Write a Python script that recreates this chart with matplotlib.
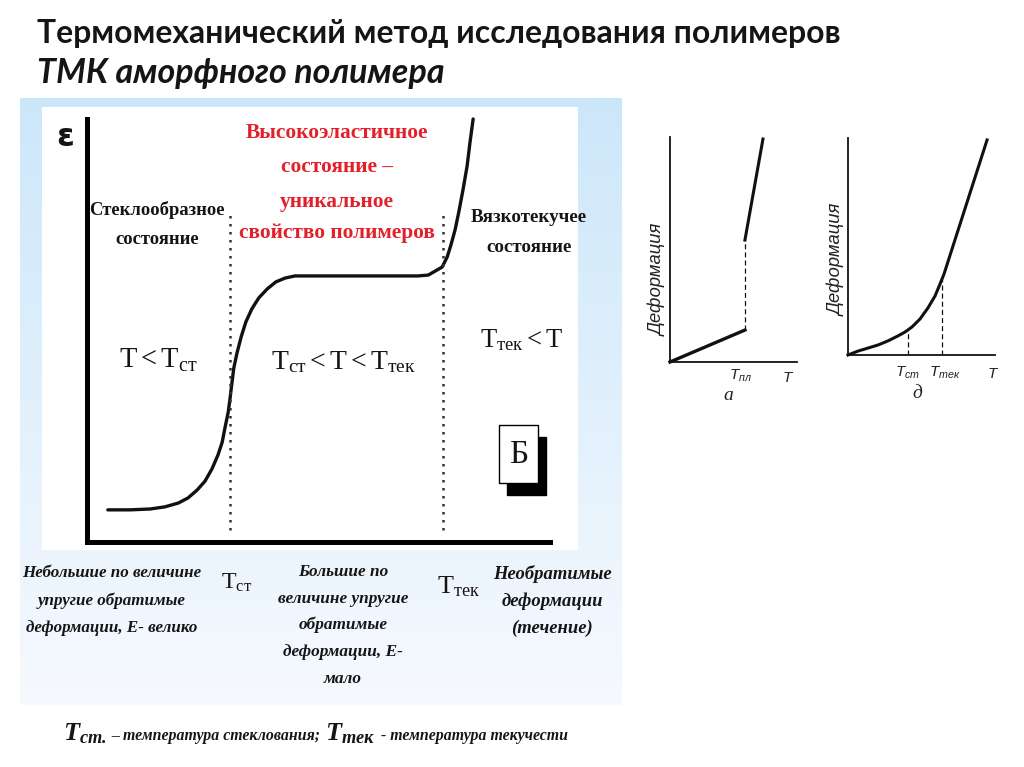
import matplotlib
matplotlib.use('Agg')
import matplotlib.pyplot as plt
import numpy as np
from matplotlib.patches import Rectangle

W, H = 1024, 767

# main TMA curve of an amorphous polymer, T and strain in arbitrary units (0..100)
main_T = [4.5, 9.3, 13.6, 16.8, 19.7, 21.8, 23.8, 25.5, 27.0, 28.3, 29.2, 29.8, 30.5,
          30.9, 31.3, 31.7, 32.4, 33.3, 34.3, 35.6, 37.1, 38.9, 40.8, 42.8, 44.9,
          71.5, 73.7, 74.5, 76.7, 77.8, 78.6, 79.5, 80.3, 81.2, 82.1, 82.7, 83.4]
main_eps = [7.6, 7.6, 7.8, 8.3, 9.2, 10.4, 12.3, 14.4, 17.3, 20.6, 23.6, 27.0, 30.7,
            34.0, 37.6, 41.1, 44.7, 48.5, 52.0, 55.1, 57.7, 59.8, 61.5, 62.4, 62.9,
            62.9, 63.1, 63.6, 65.0, 67.4, 70.2, 73.8, 78.0, 83.2, 88.9, 94.3, 100.0]
T_glass = 30.9
T_flow = 76.9

# small chart "а" (crystalline polymer)
a_T_low = [0, 59.0]
a_def_low = [0, 14.2]
a_T_high = [59.0, 73.2]
a_def_high = [54.2, 99.1]
T_melt = 59.0

# small chart "д"
d_T = [0, 6.8, 13.6, 20.4, 27.2, 34.0, 38.8, 43.5, 49.0, 54.4, 59.2, 62.6, 65.3, 94.6]
d_def = [0, 1.8, 3.2, 4.6, 6.5, 8.8, 10.6, 12.9, 16.6, 21.7, 27.2, 32.7, 37.3, 99.1]
d_T_marks = [40.8, 63.9]

plt.rcParams['mathtext.fontset'] = 'custom'
plt.rcParams['mathtext.rm'] = 'Liberation Serif'
plt.rcParams['mathtext.it'] = 'Liberation Serif:italic'
plt.rcParams['mathtext.bf'] = 'Liberation Serif:bold'
plt.rcParams['mathtext.sf'] = 'Liberation Sans:italic'
if 'mathtext.bfit' in plt.rcParams:
    plt.rcParams['mathtext.bfit'] = 'Liberation Serif:italic:bold'

fig = plt.figure(figsize=(W / 100, H / 100), dpi=100)
fig.patch.set_facecolor('white')
rend = fig.canvas.get_renderer()

bg = fig.add_axes([0, 0, 1, 1])

# light blue frame behind the main picture
grad = np.linspace(0, 1, 200)[:, None, None]
top_c = np.array([0.80, 0.905, 0.98])
bot_c = np.array([0.965, 0.978, 0.995])
bg.imshow(top_c + (bot_c - top_c) * grad, extent=(20, 622, 705, 98), aspect='auto', zorder=0)
bg.add_patch(Rectangle((42, 107), 536, 443, facecolor='white', edgecolor='none', zorder=1))
bg.set_xlim(0, W)
bg.set_ylim(H, 0)
bg.axis('off')

SERIF = 'Liberation Serif'
INK = '#151515'


def px_axes(left, top, right, bottom):
    return fig.add_axes([left / W, 1 - bottom / H, (right - left) / W, (bottom - top) / H])


def fit(texts, size, how='width'):
    cur = max(getattr(t.get_window_extent(rend), how) for t in texts)
    for t in texts:
        t.set_fontsize(t.get_fontsize() * size / cur)


def block(lines, x, ys, width, **kw):
    ts = [bg.text(x, y, s, ha='center', va='center', fontsize=12, zorder=5, **kw)
          for s, y in zip(lines, ys)]
    fit(ts, width)
    return ts


def label(s, x, y, width, ha='left', va='baseline', **kw):
    t = bg.text(x, y, s, ha=ha, va=va, fontsize=12, zorder=5, **kw)
    fit([t], width)
    return t


def inline(pieces, x, y, width, gap=0.3):
    ts = [bg.text(x, y, s, ha='left', va='baseline', fontsize=12 * r, zorder=5, **kw)
          for s, r, kw in pieces]

    def total(base):
        g = gap * base * 100 / 72
        return sum(t.get_window_extent(rend).width for t in ts) + g * (len(ts) - 1)

    k = width / total(12)
    for t, (s, r, kw) in zip(ts, pieces):
        t.set_fontsize(12 * r * k)
    g = gap * 12 * k * 100 / 72
    pos = x
    for t in ts:
        t.set_x(pos)
        pos += t.get_window_extent(rend).width + g
    return ts


# titles
label('Термомеханический метод исследования полимеров', 37, 34, 801, va='center',
      family=['Lato', 'DejaVu Sans'], fontweight='bold', color=INK)
label('ТМК аморфного полимера', 37, 73, 406, va='center',
      family=['Lato', 'DejaVu Sans'], fontweight='bold', style='italic', color=INK)

# ---- main chart ----
ax = px_axes(87, 119, 550, 542)
ax.set_facecolor('none')
ax.set_xlim(0, 100)
ax.set_ylim(0, 100)
ax.plot(main_T, main_eps, color='#111111', lw=2.4, solid_joinstyle='round',
        solid_capstyle='round', clip_on=False)
ax.vlines([T_glass, T_flow], 2.8, 78, colors='#333333', linestyles=[(0, (1, 2.2))], lw=1.8)
for s in ['top', 'right']:
    ax.spines[s].set_visible(False)
for s in ['left', 'bottom']:
    ax.spines[s].set_linewidth(3.6)
    ax.spines[s].set_color('black')
ax.set_xticks([])
ax.set_yticks([])

bg.text(65, 138, 'ε', ha='center', va='center', fontsize=23, family='DejaVu Sans',
        fontweight='bold', color=INK, zorder=5)

block(['Стеклообразное', 'состояние'], 157, [210, 240], 134,
      family=SERIF, fontweight='bold', color=INK)
block(['Высокоэластичное', 'состояние –', 'уникальное', 'свойство полимеров'], 337,
      [133, 167, 202, 233], 196, family=SERIF, fontweight='bold', color='#e3202a')
block(['Вязкотекучее', 'состояние'], 529, [218, 248], 116,
      family=SERIF, fontweight='bold', color=INK)

label(r'$\mathrm{T < T_{ст}}$', 119, 368, 80, color=INK)
label(r'$\mathrm{T_{ст} < T < T_{тек}}$', 271, 369, 146, color=INK)
label(r'$\mathrm{T_{тек} < T}$', 480, 347, 84, color=INK)

# "Б" badge
bg.add_patch(Rectangle((507, 437), 39, 58, facecolor='black', edgecolor='black', zorder=2))
bg.add_patch(Rectangle((499, 425), 39, 58, facecolor='white', edgecolor='black', lw=1.0, zorder=3))
bg.text(518.5, 455, 'Б', ha='center', va='center', fontsize=24, family=SERIF, color=INK, zorder=4)

# ---- captions below the main chart ----
cap = dict(family=SERIF, style='italic', fontweight='bold', color=INK)
block(['Небольшие по величине', 'упругие обратимые', 'деформации, Е- велико'],
      112, [573, 601, 628], 178, **cap)
block(['Большие по', 'величине упругие', 'обратимые', 'деформации, Е-', 'мало'],
      343, [572, 599, 625, 652, 679], 130, **cap)
block(['Необратимые', 'деформации', '(течение)'], 552, [574, 601, 628], 118, **cap)
label(r'$\mathrm{T_{ст}}$', 221, 589, 32, color=INK)
label(r'$\mathrm{T_{тек}}$', 437, 593, 44, color=INK)

inline([(r'$\mathbfit{T}_{\mathbfit{ст.}}$', 1.65, dict(color=INK)),
        ('– температура стеклования;', 1.0, cap),
        (r'$\mathbfit{T}_{\mathbfit{тек}}$', 1.65, dict(color=INK)),
        ('- температура текучести', 1.0, cap)],
       63, 740, 505)


# ---- two small charts on the right ----
def small_axes(left, top, right, bottom):
    a = px_axes(left, top, right, bottom)
    a.set_facecolor('none')
    a.set_xlim(0, 100)
    a.set_ylim(0, 100)
    for s in ['top', 'right']:
        a.spines[s].set_visible(False)
    for s in ['left', 'bottom']:
        a.spines[s].set_linewidth(1.3)
        a.spines[s].set_color('#111111')
    a.set_xticks([])
    a.set_yticks([])
    return a


ax_a = small_axes(670, 137, 797, 362)
ax_a.plot(a_T_low, a_def_low, color='#111111', lw=2.4, clip_on=False)
ax_a.plot(a_T_high, a_def_high, color='#111111', lw=2.2, clip_on=False)
ax_a.plot([T_melt, T_melt], [a_def_low[-1], a_def_high[0]], color='#111111', lw=0.9,
          dashes=(4, 2.5))

ax_d = small_axes(848, 138, 995, 355)
ax_d.plot(d_T, d_def, color='#111111', lw=2.2, clip_on=False)
for t in d_T_marks:
    ax_d.plot([t, t], [0, np.interp(t, d_T, d_def)], color='#111111', lw=0.9, dashes=(4, 2.5))

small = dict(family='Liberation Sans', style='italic', color='#222222')
for x, y in [(658, 280), (837, 260)]:
    t = bg.text(x, y, 'Деформация', rotation=90, ha='center', va='center', fontsize=10,
                zorder=5, **small)
    fit([t], 112, how='height')

lab = dict(ha='center', va='center', fontsize=11, color='#222222', zorder=5)
bg.text(741, 376, r'$\mathsf{T_{пл}}$', **lab)
bg.text(788, 377, r'$\mathsf{T}$', **lab)
bg.text(908, 373, r'$\mathsf{T_{ст}}$', **lab)
bg.text(945, 373, r'$\mathsf{T_{тек}}$', **lab)
bg.text(993, 373, r'$\mathsf{T}$', **lab)
bg.text(728, 395, 'а', ha='center', va='center', fontsize=14, family=SERIF, style='italic',
        color='#222222', zorder=5)
bg.text(917, 393, 'д', ha='center', va='center', fontsize=14, family=SERIF, style='italic',
        color='#222222', zorder=5)

fig.savefig('out.png', dpi=100)
plt.close(fig)
